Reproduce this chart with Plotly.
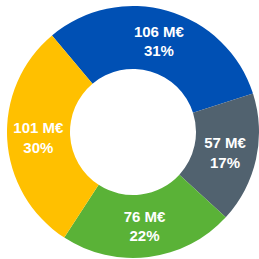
import plotly.graph_objects as go

categories = ["A", "B", "C", "D"]
values = [106, 57, 76, 101]
colors = ["#0050B4", "#51626F", "#5AB237", "#FFC000"]

fig = go.Figure(go.Pie(
    labels=categories,
    values=values,
    hole=0.5,
    sort=False,
    direction="clockwise",
    rotation=-40,
    marker=dict(colors=colors, line=dict(width=0)),
    texttemplate="%{value} M€<br>%{percent:.0%}",
    textposition="inside",
    insidetextorientation="horizontal",
    textfont=dict(family="Liberation Sans, Arial, sans-serif", size=15, color="white", weight="bold"),
    showlegend=False,
    hoverinfo="none",
))
fig.update_layout(
    width=259, height=259,
    margin=dict(l=7, r=0, t=6, b=1),
    paper_bgcolor="white",
    plot_bgcolor="white",
)
fig.write_html("out.html", config={"displayModeBar": False},
               post_script="document.body.style.margin='0';")
